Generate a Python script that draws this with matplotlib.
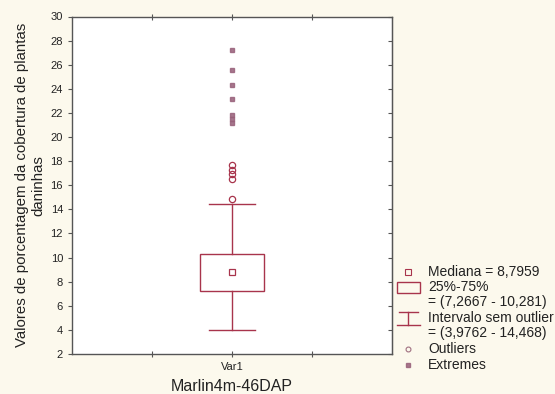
import matplotlib
matplotlib.use('Agg')
import matplotlib.pyplot as plt
from matplotlib.lines import Line2D
from matplotlib.patches import Rectangle

# statistics (Statistica style box plot)
category = 'Var1'
median = 8.7959
q1, q3 = 7.2667, 10.281
whisker_low, whisker_high = 3.9762, 14.468
outliers = [17.65, 17.3, 16.9, 16.5, 14.85]
extremes = [27.2, 25.55, 24.3, 23.15, 21.8, 21.5, 21.2]
yticks = list(range(2, 31, 2))

red = '#a8344c'
ext_col = '#98607a'
bg = '#fcf9ed'

plt.rcParams['font.family'] = ['Liberation Sans', 'DejaVu Sans']

fig = plt.figure(figsize=(5.55, 3.94), dpi=100, facecolor=bg)
ax = fig.add_axes([72 / 555, 40 / 394, 320 / 555, 337.5 / 394])
ax.set_facecolor('white')

x0 = 0.0
ax.add_patch(Rectangle((x0 - 0.406, q1), 0.812, q3 - q1, fill=False, edgecolor=red, lw=1.0))
ax.plot([x0, x0], [q3, whisker_high], color=red, lw=1.0)
ax.plot([x0, x0], [whisker_low, q1], color=red, lw=1.0)
ax.plot([x0 - 0.29, x0 + 0.29], [whisker_high] * 2, color=red, lw=1.0)
ax.plot([x0 - 0.29, x0 + 0.29], [whisker_low] * 2, color=red, lw=1.0)
ax.plot([x0], [median], marker='s', ms=4.5, mfc='none', mec=red, mew=0.9, ls='none')
ax.plot([x0] * len(outliers), outliers, marker='o', ms=4.5, mfc='none', mec=red, mew=0.9, ls='none')
ax.plot([x0] * len(extremes), extremes, marker='s', ms=2.8, mfc=ext_col, mec=ext_col, ls='none', alpha=0.85)

ax.set_xlim(-2, 2)
ax.set_ylim(2, 30)
ax.set_xticks([-1, 0, 1])
ax.set_xticklabels(['', category, ''])
ax.set_yticks(yticks)
ax.tick_params(axis='both', labelsize=8, length=3, width=0.8, colors='#555555', labelcolor='#222222')
ax.tick_params(axis='x', direction='inout', top=True, length=4)
ax.tick_params(axis='y', direction='out')
for s in ax.spines.values():
    s.set_color('#555555')
    s.set_linewidth(1.0)

# right-hand ticks point inward
right = ax.secondary_yaxis('right')
right.set_yticks(yticks)
right.tick_params(direction='in', length=3, width=0.8, colors='#555555', labelright=False)
right.spines['right'].set_color('#555555')

ax.set_xlabel('Marlin4m-46DAP', fontsize=11.5, color='#222222', labelpad=5)
ax.set_ylabel('Valores de porcentagem da cobertura de plantas\ndaninhas',
              fontsize=10.8, color='#222222', labelpad=4, linespacing=1.2)

# legend drawn in figure pixel coordinates
def fx(px):
    return px / 555

def fy(py):
    return 1 - py / 394

tx = fx(428)
lines = [(272, 'Mediana = 8,7959'), (287, '25%-75%'), (302, '= (7,2667 - 10,281)'),
         (318, 'Intervalo sem outlier'), (333, '= (3,9762 - 14,468)'),
         (349, 'Outliers'), (365, 'Extremes')]
for py, txt in lines:
    fig.text(tx, fy(py), txt, fontsize=10, color='#222222', va='center', ha='left')

fig.add_artist(Line2D([fx(408)], [fy(272)], marker='s', ms=4, mfc='none', mec=red, mew=0.8))
fig.add_artist(Rectangle((fx(397), fy(293)), fx(23), 11 / 394, fill=False, edgecolor=red, lw=1.0))
fig.add_artist(Line2D([fx(399), fx(418)], [fy(312)] * 2, color=red, lw=1.0))
fig.add_artist(Line2D([fx(397), fx(420)], [fy(325)] * 2, color=red, lw=1.0))
fig.add_artist(Line2D([fx(408), fx(408)], [fy(312), fy(325)], color=red, lw=1.0))
fig.add_artist(Line2D([fx(408)], [fy(349)], marker='o', ms=3.5, mfc='none', mec='#a07080', mew=0.8))
fig.add_artist(Line2D([fx(408)], [fy(365)], marker='s', ms=2.5, mfc=ext_col, mec=ext_col, alpha=0.85))

fig.savefig('out.png', dpi=100, facecolor=bg)
